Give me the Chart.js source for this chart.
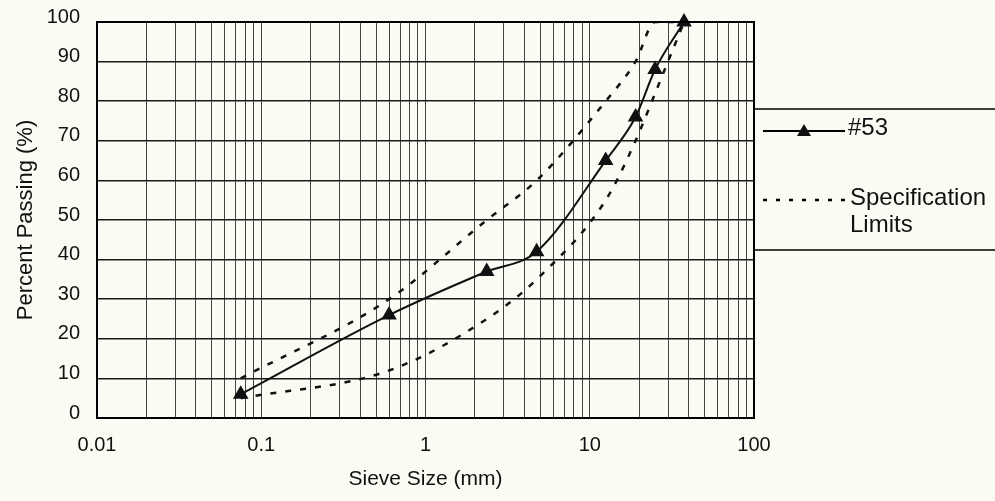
<!DOCTYPE html>
<html>
<head>
<meta charset="utf-8">
<script src="https://cdn.jsdelivr.net/npm/chart.js@4"></script>
<style>
  html, body { margin: 0; padding: 0; background: #fbfbf4; }
  #wrap { position: relative; width: 995px; height: 501px; }
</style>
</head>
<body>
<div id="wrap"><canvas id="chartSieve"></canvas></div>
<script>
const sieveSizes  = [0.075, 0.6, 2.36, 4.75, 12.5, 19, 25, 37.5];
const passing53   = [6, 26, 37, 42, 65, 76, 88, 100];
const upperLimit  = [10, 30, 50, 60, 80, 90, 100, 100];
const lowerLimit  = [5, 12, 25, 35, 55, 70, 82, 100];
const xTickLabels = ['0.01', '0.1', '1', '10', '100'];
const legendLabels = ['#53', ['Specification', 'Limits']];

const xTickValues = xTickLabels.map(Number);
const pts = ys => sieveSizes.map((x, i) => ({ x, y: ys[i] }));
const INK = '#111';
const FONT = '"Liberation Sans", Arial, sans-serif';
const DASH = [6, 9];

/* background, frame and the boxed legend on the right */
const frame = {
  id: 'frame',
  beforeDraw(chart) {
    const { ctx, width, height } = chart;
    ctx.save();
    ctx.fillStyle = '#fbfbf4';
    ctx.fillRect(0, 0, width, height);
    ctx.restore();
  },
  afterDraw(chart) {
    const { ctx, chartArea: a, width } = chart;
    ctx.save();
    ctx.strokeStyle = '#000';
    ctx.lineWidth = 2;
    ctx.strokeRect(a.left, a.top, a.right - a.left, a.bottom - a.top);

    // legend box
    const boxTop = a.top + 87, boxBot = a.top + 228;
    ctx.lineWidth = 1.5;
    ctx.beginPath();
    ctx.moveTo(a.right, boxTop); ctx.lineTo(width, boxTop);
    ctx.moveTo(a.right, boxBot); ctx.lineTo(width, boxBot);
    ctx.stroke();

    const x0 = a.right + 9, x1 = a.right + 91;
    // #53 sample
    const y1 = boxTop + 22;
    ctx.lineWidth = 2;
    ctx.setLineDash([]);
    ctx.beginPath(); ctx.moveTo(x0, y1); ctx.lineTo(x1, y1); ctx.stroke();
    const cx = (x0 + x1) / 2, r = 7;
    ctx.fillStyle = INK;
    ctx.beginPath();
    ctx.moveTo(cx, y1 - r);
    ctx.lineTo(cx + r, y1 + r * 0.7);
    ctx.lineTo(cx - r, y1 + r * 0.7);
    ctx.closePath(); ctx.fill();

    // spec sample
    const y2 = boxTop + 91;
    ctx.lineWidth = 2.5;
    ctx.setLineDash([4, 9]);
    ctx.beginPath(); ctx.moveTo(x0, y2); ctx.lineTo(x1, y2); ctx.stroke();
    ctx.setLineDash([]);

    ctx.font = '24px ' + FONT;
    ctx.fillStyle = INK;
    ctx.textBaseline = 'middle';
    ctx.textAlign = 'left';
    ctx.fillText(legendLabels[0], x1 + 3, y1 - 3);
    ctx.fillText(legendLabels[1][0], x1 + 5, y2 - 2);
    ctx.fillText(legendLabels[1][1], x1 + 5, y2 + 25);
    ctx.restore();
  }
};

new Chart(document.getElementById('chartSieve'), {
  type: 'line',
  data: {
    datasets: [
      {
        label: legendLabels[0],
        data: pts(passing53),
        borderColor: INK,
        borderWidth: 2,
        pointStyle: 'triangle',
        pointRadius: 7,
        pointBackgroundColor: INK,
        pointBorderColor: INK,
        cubicInterpolationMode: 'monotone',
        clip: false,
      },
      {
        label: 'Upper limit',
        data: pts(upperLimit),
        borderColor: INK,
        borderWidth: 2.5,
        borderDash: DASH,
        pointRadius: 0,
        cubicInterpolationMode: 'monotone',
      },
      {
        label: 'Lower limit',
        data: pts(lowerLimit),
        borderColor: INK,
        borderWidth: 2.5,
        borderDash: DASH,
        pointRadius: 0,
        cubicInterpolationMode: 'monotone',
      },
    ],
  },
  options: {
    responsive: true,
    maintainAspectRatio: false,
    animation: false,
    layout: { padding: { top: 22, right: 241, left: 0, bottom: 0 } },
    plugins: {
      legend: { display: false },
      tooltip: { enabled: false },
    },
    scales: {
      x: {
        type: 'logarithmic',
        min: 0.01,
        max: 100,
        afterBuildTicks: s => {
          s.ticks = s.ticks.filter(t => {
            const r = t.value / Math.pow(10, Math.floor(Math.log10(t.value) + 1e-9));
            return Math.abs(r - Math.round(r)) < 1e-6;
          });
        },
        afterFit: s => { s.height = 83; },
        grid: { color: '#444', lineWidth: 1, drawTicks: false },
        border: { display: true, color: '#000', width: 2 },
        ticks: {
          autoSkip: false,
          maxRotation: 0,
          padding: 15,
          color: INK,
          font: { family: FONT, size: 20 },
          callback: v => {
            const i = xTickValues.findIndex(t => Math.abs(Math.log10(v) - Math.log10(t)) < 1e-6);
            return i < 0 ? '' : xTickLabels[i];
          },
        },
        title: {
          display: true,
          text: 'Sieve Size (mm)',
          color: INK,
          padding: { top: 0, bottom: 9 },
          font: { family: FONT, size: 21 },
        },
      },
      y: {
        min: 0,
        max: 100,
        afterFit: s => { s.width = 97; s.paddingTop = 0; s.paddingBottom = 0; },
        grid: { color: '#1a1a1a', lineWidth: 1.5, drawTicks: false },
        border: { display: true, color: '#000', width: 2 },
        ticks: {
          stepSize: 10,
          padding: 17,
          labelOffset: -5,
          color: INK,
          font: { family: FONT, size: 20 },
        },
        title: {
          display: true,
          text: 'Percent Passing (%)',
          color: INK,
          padding: { top: 13, bottom: 0 },
          font: { family: FONT, size: 22 },
        },
      },
    },
  },
  plugins: [frame],
});
</script>
</body>
</html>
